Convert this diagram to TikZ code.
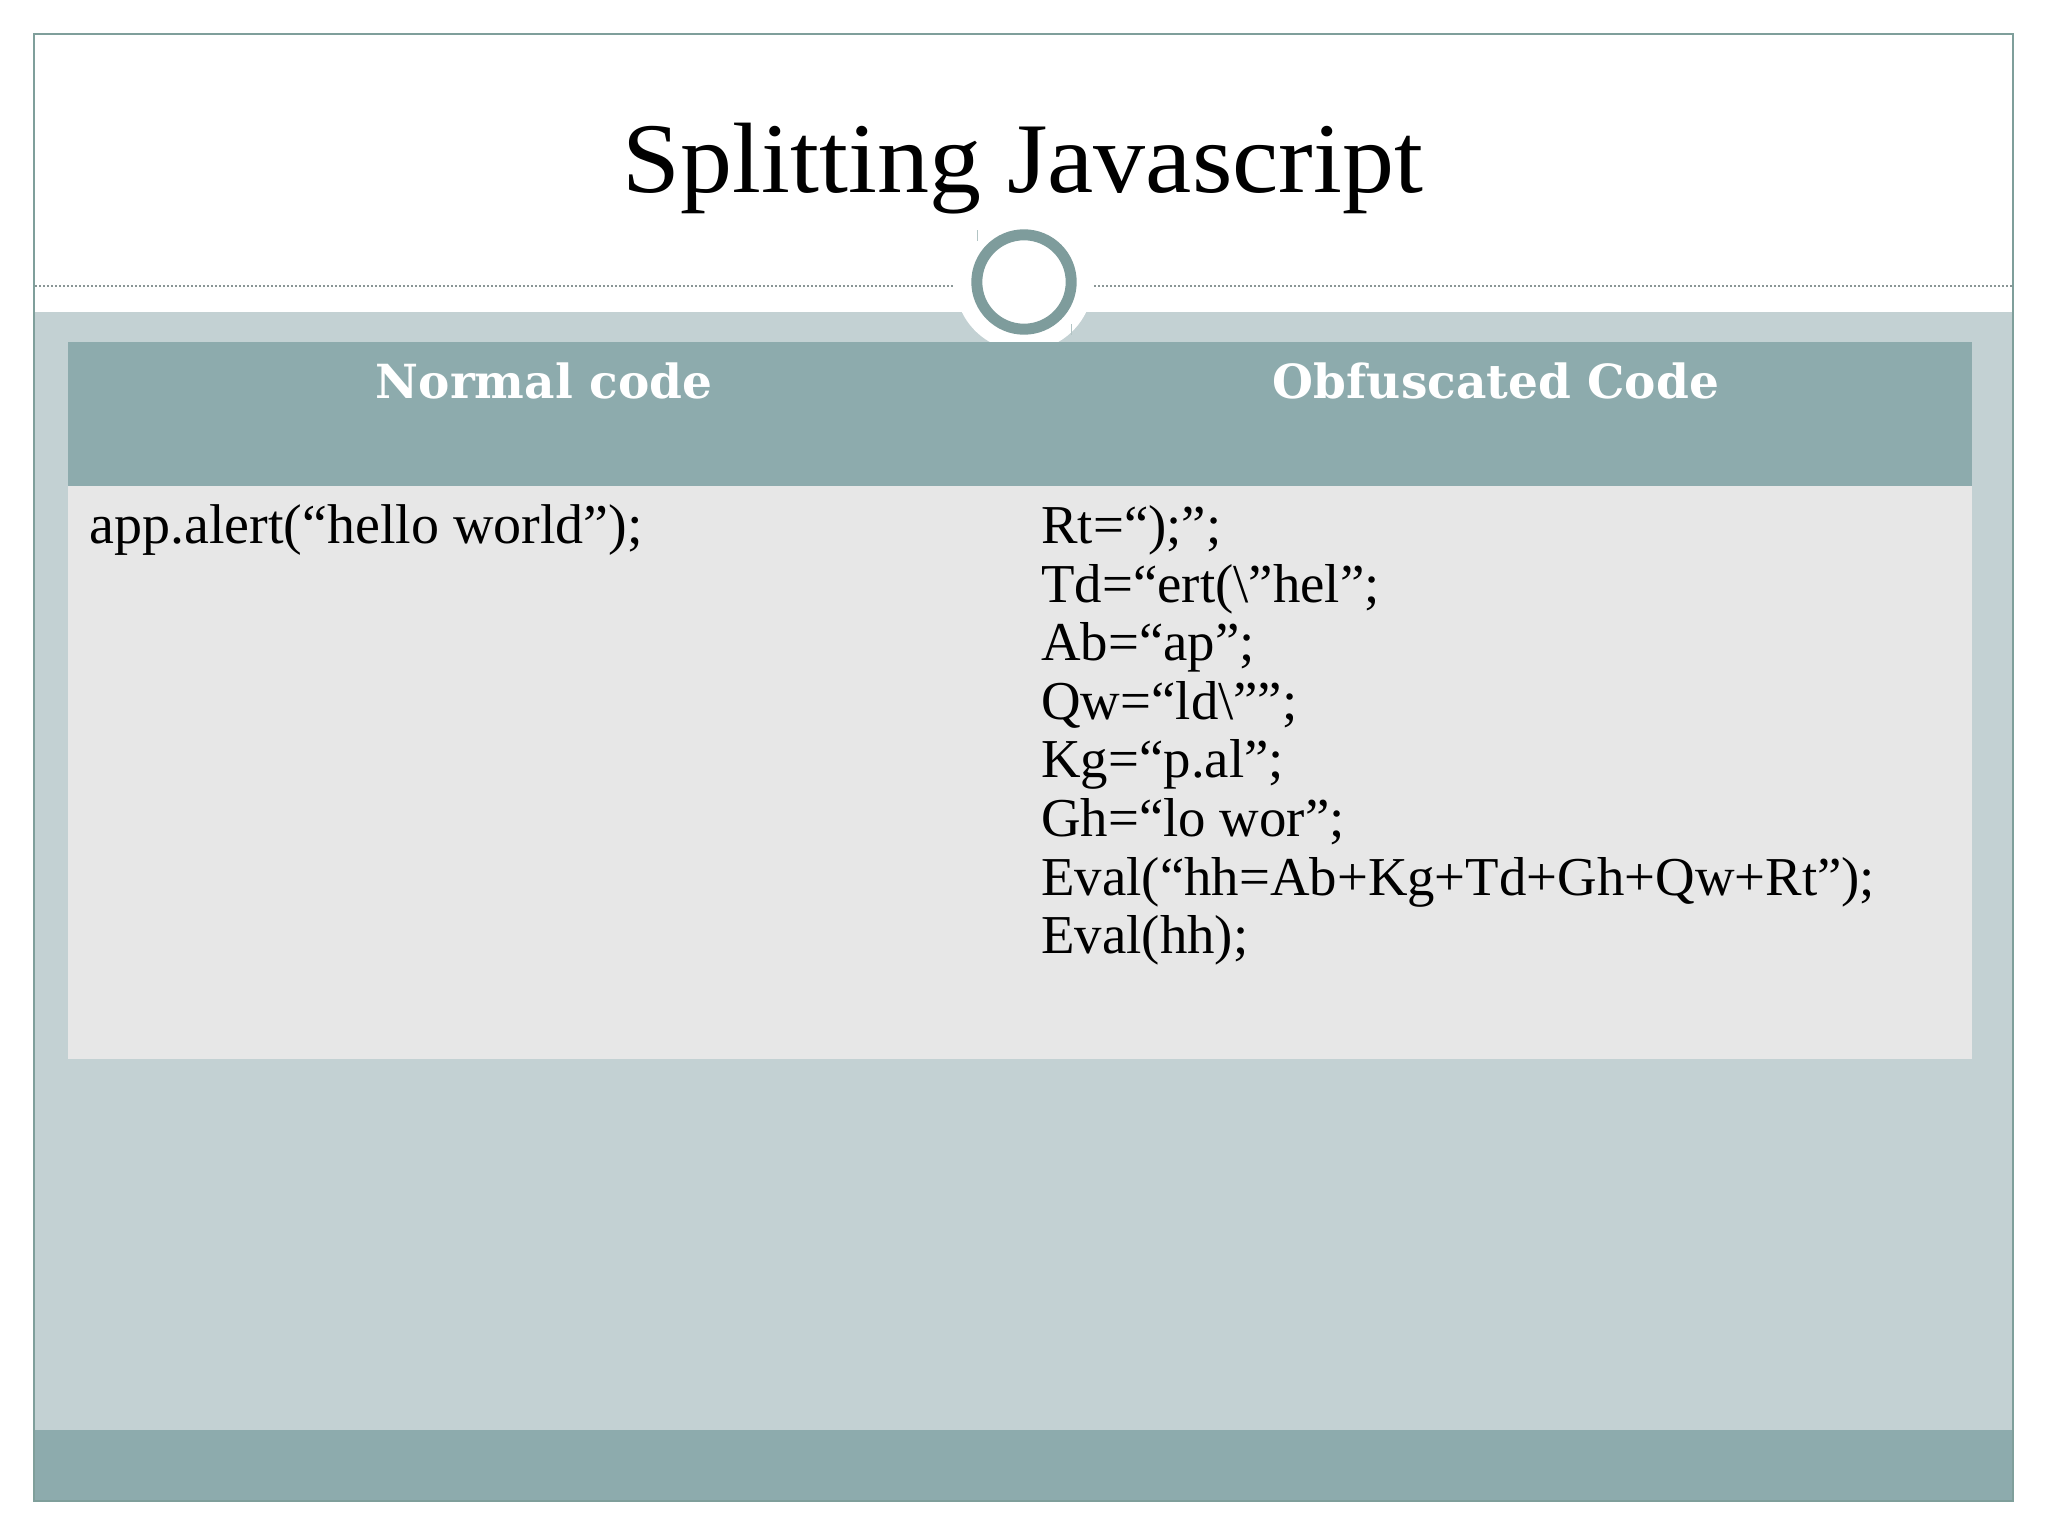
\documentclass[tikz,border=0pt]{standalone}
\usepackage{fontspec}
\setmainfont{Liberation Serif}
\newfontfamily\headfont{DejaVu Serif}
\newfontfamily\titlefont[FakeStretch=1.04]{Liberation Serif}
\definecolor{frameC}{HTML}{7F9F9B}
\definecolor{bandC}{HTML}{C3D1D3}
\definecolor{headC}{HTML}{8DABAD}
\definecolor{cellC}{HTML}{E7E7E7}
\definecolor{ringC}{HTML}{7E9C9C}
\definecolor{dotC}{HTML}{8A9696}
\tikzset{
  x=0.5pt,y=-0.5pt,
  titletext/.style={font=\titlefont\fontsize{50}{54}\selectfont,text=black,inner sep=0pt,anchor=base},
  headtext/.style={font=\headfont\bfseries\fontsize{23.5}{26}\selectfont,text=white,inner sep=0pt,anchor=base},
  bodytext/.style={font=\fontsize{27.4}{29.3}\selectfont,text=black,inner sep=0pt,anchor=base west,align=left},
  dotline/.style={draw=dotC,line width=0.6pt,dash pattern=on 1pt off 1pt},
  tick/.style={draw=ringC!60,line width=0.5pt}
}
\begin{document}
\begin{tikzpicture}
\useasboundingbox (0,0) rectangle (2048,1536);
\fill[white] (0,0) rectangle (2048,1536);
% slide background
\fill[bandC] (34,312) rectangle (2013,1430);
\fill[headC] (34,1430) rectangle (2013,1501);
\draw[frameC,line width=1.2pt] (34,34) rectangle (2013,1501);
% notch behind the ring
\fill[white] (1024,282) circle (69);
% table
\fill[headC] (68,342) rectangle (1972,486);
\fill[cellC] (68,486) rectangle (1972,1059);
% header rule and ring
\coordinate (ruleLa) at (35,286);
\coordinate (ruleLb) at (955,286);
\coordinate (ruleRa) at (1094,286);
\coordinate (ruleRb) at (2012,286);
\draw[dotline] (ruleLa) -- (ruleLb);
\draw[dotline] (ruleRa) -- (ruleRb);
\draw[ringC,line width=5.5pt] (1024,282) circle (47.2);
\draw[tick] (977,230) -- (977,241);
\draw[tick] (1071,324) -- (1071,335);
% texts
\node[titletext] (title) at (1023,192) {Splitting Javascript};
\node[headtext] (normal) at (544,398) {Normal code};
\node[headtext] (obf) at (1496,398) {Obfuscated Code};
\node[bodytext,font=\fontsize{28}{29.3}\selectfont] (left) at (89,543) {app.alert(“hello world”);};
\node[bodytext,anchor=north west] (right) at (1041,505) {Rt=“);”;\\Td=“ert(\textbackslash”hel”;\\Ab=“ap”;\\Qw=“ld\textbackslash””;\\Kg=“p.al”;\\Gh=“lo wor”;\\Eval(“hh=Ab+Kg+Td+Gh+Qw+Rt”);\\Eval(hh);};
\end{tikzpicture}
\end{document}
